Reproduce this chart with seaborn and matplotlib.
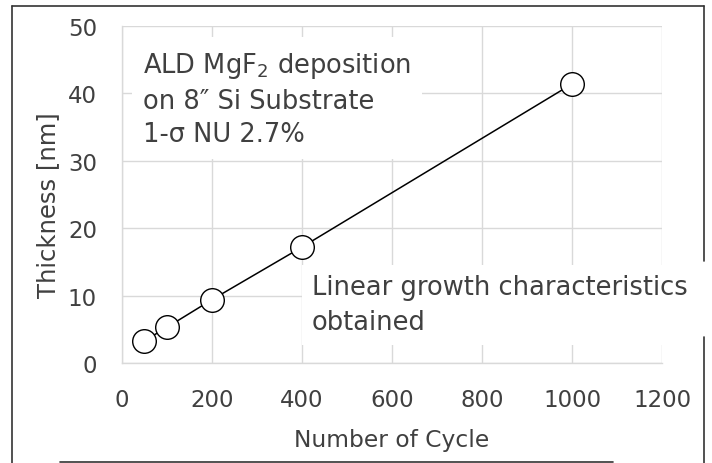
import matplotlib
matplotlib.use("Agg")
import matplotlib.pyplot as plt
import seaborn as sns
import pandas as pd
from matplotlib.lines import Line2D

# Data
cycles = [50, 100, 200, 400, 1000]
thickness = [3.3, 5.3, 9.4, 17.2, 41.4]
x_ticks = [0, 200, 400, 600, 800, 1000, 1200]
y_ticks = [0, 10, 20, 30, 40, 50]

df = pd.DataFrame({"Cycle": cycles, "Thickness": thickness})

# Setup
sns.set_theme(style="whitegrid", rc={"grid.color": "#d9d9d9", "grid.linewidth": 1.0})
plt.rcParams["font.family"] = ["DejaVu Sans"]
text_color = "#404040"

fig = plt.figure(figsize=(7.12, 4.64), dpi=100)
ax = fig.add_axes([0.1713, 0.2155, 0.7585, 0.7263])

sns.lineplot(data=df, x="Cycle", y="Thickness", ax=ax, color="black", linewidth=1.1,
             marker="o", markersize=17, markerfacecolor="white",
             markeredgecolor="black", markeredgewidth=1.0, zorder=5)

ax.set_xlim(0, 1200)
ax.set_ylim(0, 50)
ax.set_xticks(x_ticks)
ax.set_yticks(y_ticks)
ax.tick_params(axis="both", length=0, labelsize=16.5, labelcolor=text_color, pad=18)
ax.set_xlabel("Number of Cycle", fontsize=16.8, color=text_color, labelpad=12)
ax.set_ylabel("Thickness [nm]", fontsize=17.5, color=text_color)
ax.yaxis.set_label_coords(-0.115, 0.472)
for side, sp in ax.spines.items():
    sp.set_visible(side in ("left", "bottom"))
    sp.set_color("#d9d9d9")
    sp.set_linewidth(1.0)

# Annotations
ax.text(46.5, 46.4, "ALD MgF$_2$ deposition\non 8\u2033 Si Substrate\n1-\u03c3 NU 2.7%",
        fontsize=18.5, color=text_color, ha="left", va="top", linespacing=1.38, zorder=3,
        bbox=dict(facecolor="white", edgecolor="none", pad=8))
ax.text(422, 13.15, "Linear growth characteristics\nobtained",
        fontsize=18.5, color=text_color, ha="left", va="top", linespacing=1.42, zorder=3,
        clip_on=False, bbox=dict(facecolor="white", edgecolor="none", pad=7))

# Frame around the figure
def px_line(x0, y0, x1, y1):
    fig.add_artist(Line2D([x0 / 712, x1 / 712], [1 - y0 / 464, 1 - y1 / 464],
                          transform=fig.transFigure, color="#333333", linewidth=1.2))

px_line(12, 7, 704, 7)
px_line(12, 7, 12, 464)
px_line(704, 7, 704, 262)
px_line(704, 338, 704, 464)
px_line(60, 463, 613, 463)

fig.savefig("out.png", dpi=100)
plt.close(fig)
